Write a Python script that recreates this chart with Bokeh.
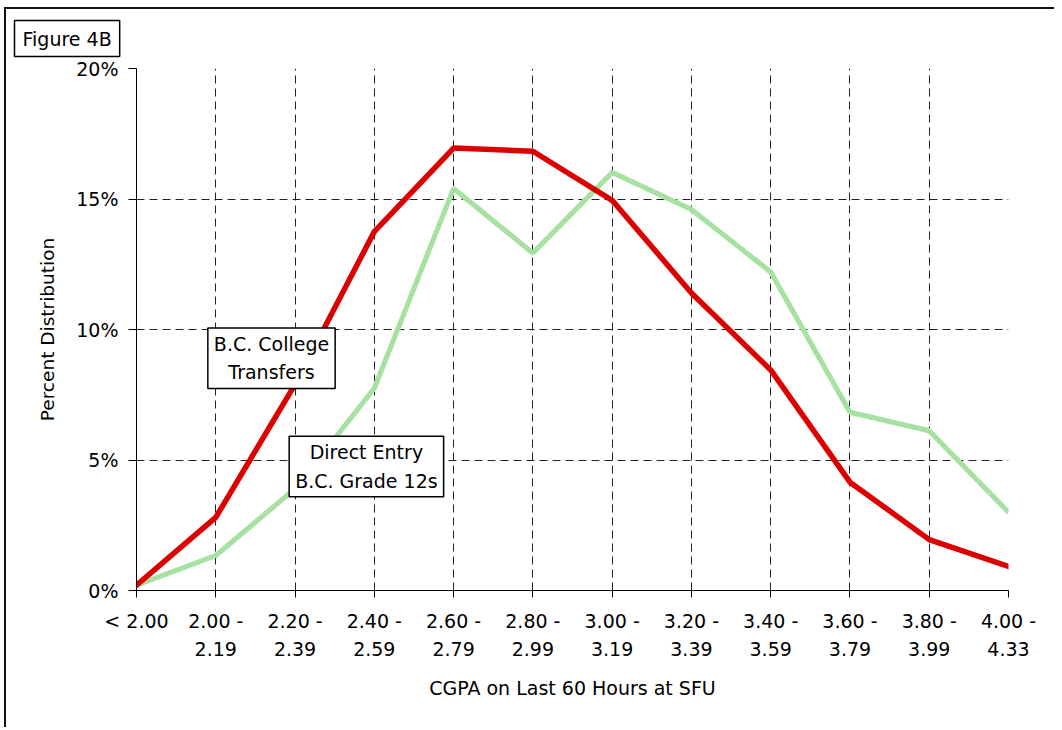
from bokeh.plotting import figure
from bokeh.models import FixedTicker, PrintfTickFormatter, Range1d, Label
from bokeh.embed import file_html
from bokeh.resources import INLINE

# ---- data ----
bins = ["< 2.00", "2.00 -\n2.19", "2.20 -\n2.39", "2.40 -\n2.59", "2.60 -\n2.79",
        "2.80 -\n2.99", "3.00 -\n3.19", "3.20 -\n3.39", "3.40 -\n3.59",
        "3.60 -\n3.79", "3.80 -\n3.99", "4.00 -\n4.33"]
college_transfers = [0.2, 2.8, 7.9, 13.75, 16.95, 16.83, 14.95, 11.4, 8.45, 4.15, 1.95, 0.92]
direct_entry = [0.2, 1.34, 3.9, 7.75, 15.4, 12.93, 16.02, 14.6, 12.2, 6.83, 6.12, 3.0]
y_ticks = [0, 5, 10, 15, 20]

FONT = "DejaVu Sans"
xs = list(range(len(bins)))

p = figure(width=1050, height=720, output_backend="svg", toolbar_location=None,
           x_range=Range1d(0, len(bins) - 1), y_range=Range1d(0, 20),
           min_border_left=130, min_border_right=48, min_border_top=59,
           min_border_bottom=139)
p.outline_line_color = None
p.background_fill_color = "white"
p.border_fill_color = "white"
p.styles = {"margin-left": "4px", "margin-top": "7px",
            "border-left": "2px solid #111111", "border-top": "2px solid #111111"}

# title box "Figure 4B"
p.title.text = "Figure 4B"
p.title.text_font = FONT
p.title.text_font_size = "19px"
p.title.text_font_style = "normal"
p.title.text_color = "black"
p.title.align = "left"
p.title.vertical_align = "top"
p.title.offset = -122
p.title.standoff = 20
p.title.border_line_color = "black"
p.title.border_line_width = 1.5
p.title.background_fill_color = "white"
p.title.padding = dict(x=8, y=7)

# axes
p.xaxis.ticker = FixedTicker(ticks=xs)
p.xaxis.major_label_overrides = {i: b for i, b in enumerate(bins)}
p.yaxis.ticker = FixedTicker(ticks=y_ticks)
p.yaxis.formatter = PrintfTickFormatter(format="%d%%")
for ax in (p.xaxis[0], p.yaxis[0]):
    ax.axis_line_color = "black"
    ax.major_tick_line_color = "black"
    ax.minor_tick_line_color = None
    ax.major_tick_in = 0
    ax.major_label_text_font = FONT
    ax.major_label_text_font_size = "19px"
    ax.major_label_text_color = "black"
    ax.axis_label_text_font = FONT
    ax.axis_label_text_font_style = "normal"
    ax.axis_label_text_color = "black"
p.xaxis.major_tick_out = 7
p.yaxis.major_tick_out = 8
p.yaxis.major_label_standoff = 10
p.xaxis.major_label_standoff = 12
p.xaxis.major_label_text_line_height = 1.29
p.xaxis.axis_label = "CGPA on Last 60 Hours at SFU"
p.xaxis.axis_label_text_font_size = "19px"
p.xaxis.axis_label_standoff = 14
p.yaxis.axis_label = "Percent Distribution"
p.yaxis.axis_label_text_font_size = "18.5px"
p.yaxis.axis_label_standoff = 15

# grids
p.xgrid.ticker = FixedTicker(ticks=xs)
p.ygrid.ticker = FixedTicker(ticks=y_ticks)
for g in (p.xgrid[0], p.ygrid[0]):
    g.grid_line_color = "#222222"
    g.grid_line_dash = "8 5"
    g.grid_line_width = 1

# lines
p.line(xs, direct_entry, line_color="#bdebb7", line_width=5, line_join="round")
p.line(xs, direct_entry, line_color="#86d383", line_width=5, line_dash="1 1",
       line_alpha=0.8, line_join="round")
p.line(xs, college_transfers, line_color="#dd0000", line_width=5.5,
       line_join="round", line_cap="round")

# annotations
lab_kw = dict(text_font=FONT, text_font_size="19px", text_align="center",
              text_baseline="middle", text_line_height=1.29, text_color="black",
              border_line_color="black", border_line_width=1.5,
              background_fill_color="white", padding=dict(x=6, y=5))
p.add_layout(Label(x=1.703, y=8.9, text="B.C. College\nTransfers", **lab_kw))
p.add_layout(Label(x=2.9, y=4.75, text="Direct Entry\nB.C. Grade 12s", **lab_kw))

open("out.html", "w").write(file_html(p, INLINE))
